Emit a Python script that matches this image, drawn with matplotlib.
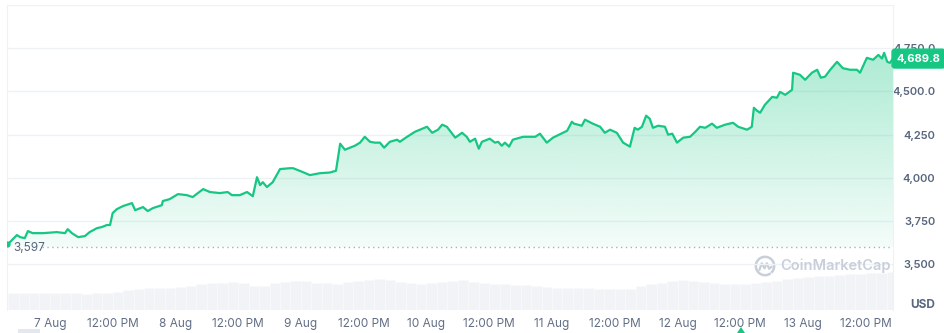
import matplotlib
matplotlib.use("Agg")
import matplotlib.pyplot as plt
import numpy as np
from matplotlib.patches import FancyBboxPatch, Polygon

# price series: hours since 7 Aug 00:00, price in USD
hours = [-8.2, -6.3, -5.7, -4.8, -4.2, -3.3, -1.3, 1.3, 2.9, 3.4, 4.2, 5.4, 6.7, 7.6, 9.0, 9.9,
         10.9, 11.5, 12.0, 12.8, 14.0, 15.7, 16.3, 17.8, 18.7, 19.7, 21.4, 21.6, 22.9, 24.5,
         26.2, 27.3, 29.3, 30.6, 32.5, 34.0, 34.8, 36.3, 37.7, 38.8, 39.6, 40.2, 40.7, 41.5,
         42.6, 44.0, 45.9, 46.5, 48.4, 49.7, 51.6, 53.5, 54.7, 55.5, 56.4, 57.4, 58.3, 59.3,
         60.2, 61.2, 62.1, 63.1, 63.9, 65.0, 66.4, 66.9, 68.3, 69.8, 72.1, 73.1, 74.2, 75.0,
         75.9, 77.5, 78.8, 79.7, 80.3, 81.3, 82.0, 82.6, 84.1, 85.1, 85.7, 86.4, 87.0, 87.8,
         88.5, 90.5, 91.8, 92.8, 93.7, 95.0, 96.2, 98.1, 98.9, 99.8, 100.2, 101.7, 102.3,
         103.8, 105.2, 106.1, 107.1, 108.4, 109.6, 110.9, 111.8, 112.4, 113.2, 114.0, 114.7,
         115.3, 116.3, 117.6, 118.2, 119.0, 119.9, 121.1, 122.4, 123.4, 124.3, 125.3, 126.6,
         127.5, 129.1, 130.6, 131.6, 133.3, 134.2, 134.6, 135.2, 135.8, 136.7, 138.1, 139.0,
         139.6, 140.6, 141.9, 142.1, 143.4, 144.4, 145.7, 146.7, 147.4, 148.2, 149.2, 150.5,
         151.6, 153.0, 154.3, 154.9, 155.5, 156.2, 157.4, 158.4, 159.1, 159.5, 160.1, 160.6,
         161.2]
prices = [3610, 3668, 3656, 3650, 3691, 3679, 3679, 3685, 3679, 3702, 3679, 3656, 3662, 3685,
          3708, 3714, 3726, 3726, 3795, 3818, 3836, 3853, 3812, 3830, 3807, 3824, 3841, 3865,
          3876, 3905, 3899, 3888, 3934, 3917, 3911, 3917, 3899, 3899, 3917, 3893, 4003, 3957,
          3974, 3946, 3974, 4050, 4055, 4055, 4032, 4015, 4026, 4030, 4040, 4197, 4162, 4174,
          4185, 4203, 4237, 4208, 4203, 4203, 4174, 4208, 4220, 4208, 4237, 4266, 4295, 4260,
          4278, 4307, 4295, 4232, 4260, 4237, 4208, 4226, 4168, 4208, 4226, 4203, 4208, 4185,
          4203, 4180, 4220, 4237, 4237, 4237, 4255, 4203, 4232, 4260, 4272, 4324, 4313, 4301,
          4336, 4313, 4295, 4260, 4278, 4260, 4203, 4180, 4289, 4278, 4295, 4359, 4341, 4289,
          4301, 4295, 4249, 4255, 4203, 4232, 4237, 4266, 4295, 4289, 4313, 4289, 4307, 4318,
          4295, 4278, 4295, 4405, 4388, 4376, 4422, 4468, 4463, 4497, 4480, 4509, 4608, 4596,
          4567, 4608, 4625, 4579, 4585, 4625, 4671, 4634, 4625, 4625, 4608, 4648, 4694, 4683,
          4711, 4690, 4723, 4671, 4665, 4689.8]

# volume, 2-hour buckets starting 6 Aug 16:00 (relative units)
vol_hours = list(range(-8, 161, 2))
volumes = [17, 17, 17, 17, 17, 17, 17, 16, 17, 17, 18, 20, 21, 22, 22, 22, 23, 24, 26, 27,
           27, 28, 27, 24, 24, 27, 28, 29, 29, 27, 27, 26, 28, 29, 30, 31, 30, 28, 27, 26,
           27, 28, 29, 30, 28, 27, 26, 26, 25, 25, 24, 23, 22, 22, 22, 22, 21, 21, 21, 21,
           24, 26, 27, 29, 30, 29, 28, 27, 26, 26, 26, 27, 28, 29, 31, 32, 33, 34, 34, 35,
           36, 36, 37, 37, 38]

open_price = 3597
last_price = 4689.8
y_ticks = [3500, 3750, 4000, 4250, 4500, 4750, 5000]
y_labels = ["3,500", "3,750", "4,000", "4,250", "4,500.0", "4,750.0", ""]
x_ticks = [0, 12, 24, 36, 48, 60, 72, 84, 96, 108, 120, 132, 144, 156]
x_labels = ["7 Aug", "12:00 PM", "8 Aug", "12:00 PM", "9 Aug", "12:00 PM", "10 Aug",
            "12:00 PM", "11 Aug", "12:00 PM", "12 Aug", "12:00 PM", "13 Aug", "12:00 PM"]

green = "#16c784"
label_gray = "#58667e"
grid_gray = "#eff2f5"

plt.rcParams['font.family'] = ['Inter', 'DejaVu Sans']

W, H = 945, 333
fig = plt.figure(figsize=(W / 100, H / 100), dpi=100)
ax = fig.add_axes([7 / W, 23 / H, 886 / W, 305 / H])

# volume in the background
vax = ax.twinx()
vax.set_ylim(0, 305)
vax.bar(vol_hours, volumes, width=2.0, color="#f1f3f6", edgecolor="#fafbfc", linewidth=0.4,
        align="edge", zorder=1)
vax.set_yticks([])
for s in vax.spines.values():
    s.set_visible(False)
ax.set_zorder(vax.get_zorder() + 1)
ax.patch.set_visible(False)

# grid
for yv in y_ticks:
    ax.axhline(yv, color=grid_gray, lw=1, zorder=0)

# gradient fill under price line
poly = ax.fill_between(hours, prices, open_price, color="none", lw=0)
grad = np.zeros((256, 1, 4))
grad[:, 0, :3] = matplotlib.colors.to_rgb(green)
grad[:, 0, 3] = np.linspace(0.05, 0.36, 256)
img = ax.imshow(grad, extent=[-8.2, 161.2, open_price, 4750], origin="lower",
                aspect="auto", zorder=2)
img.set_clip_path(poly.get_paths()[0], transform=ax.transData)
ax.set_xlim(-8.2, 161.2)
ax.set_ylim(3234, 4999)

# price line
ax.plot(hours, prices, color=green, lw=1.6, zorder=4, solid_joinstyle="round")
ax.plot(hours[0], 3614, "o", color=green, ms=3.5, zorder=5)

# open price reference line
ax.plot([-1.5, 161.2], [open_price, open_price], color="#a6b0c3", lw=1,
        linestyle=(0, (1, 2.5)), zorder=3)
ax.text(-7.0, open_price - 2, "3,597", color=label_gray, fontsize=8.5, va="center",
        ha="left", zorder=5)

# axes styling
for side in ["top", "bottom"]:
    ax.spines[side].set_visible(False)
ax.spines["left"].set_color(grid_gray)
ax.spines["right"].set_color(grid_gray)
ax.yaxis.tick_right()
ax.set_yticks(y_ticks)
ax.set_yticklabels(y_labels, color=label_gray, fontsize=8, fontweight="semibold")
for lab in ax.get_yticklabels():
    lab.set_horizontalalignment("right")
ax.tick_params(axis="y", length=0, pad=30.5)
ax.set_xticks(x_ticks)
ax.set_xticklabels(x_labels, color="#616e85", fontsize=8.5)
ax.tick_params(axis="x", length=0, pad=6)

# last price tag
ax.annotate(f"{last_price:,.1f}", xy=(1.0, last_price), xycoords=("axes fraction", "data"),
            xytext=(2.5, 0), textcoords="offset points", ha="left", va="center",
            color="white", fontsize=8, fontweight="bold", zorder=6,
            bbox=dict(boxstyle="round,pad=0.4,rounding_size=0.25", fc=green, ec=green))

fig.text(935 / W, 1 - 305 / H, "USD", color=label_gray, fontsize=8.5,
         fontweight="bold", ha="right", va="center")

# watermark
fig.text(780 / W, 1 - 266 / H, "CoinMarketCap", color="#c8cfdb", fontsize=10.5,
         fontweight="semibold", ha="left", va="center")
lax = fig.add_axes([754 / W, 1 - 277 / H, 22 / W, 22 / H])
lax.set_xlim(-1.2, 1.2)
lax.set_ylim(-1.2, 1.2)
th = np.linspace(np.radians(-40), np.radians(300), 80)
lax.plot(np.cos(th), np.sin(th), color="#c8cfdb", lw=1.8)
lax.plot([-0.6, -0.35, -0.05, 0.2, 0.45, 0.7], [-0.4, 0.3, -0.25, 0.3, -0.3, -0.1],
         color="#c8cfdb", lw=1.6)
lax.axis("off")

# small range handle marks at the bottom
fig.patches.append(FancyBboxPatch((18 / W, 0), 22 / W, 4 / H, boxstyle="round,pad=0",
                                  transform=fig.transFigure, fc="#e3e7ee", ec="none"))
fig.patches.append(Polygon([(737 / W, 0), (745 / W, 0), (741 / W, 6 / H)], closed=True,
                           transform=fig.transFigure, fc=green, ec="none"))

fig.savefig("out.png", dpi=100, facecolor="white")
